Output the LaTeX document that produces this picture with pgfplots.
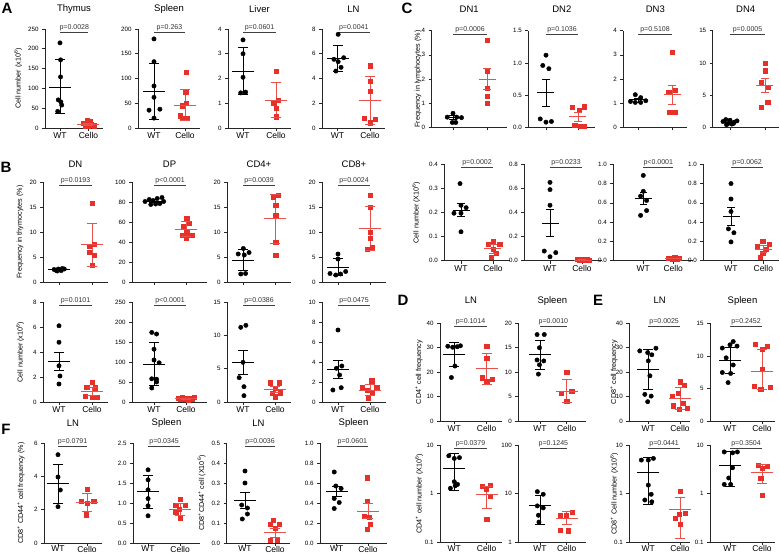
\documentclass[border=0pt]{standalone}
\usepackage{fontspec}
\setmainfont{Liberation Sans}
\usepackage{pgfplots}
\pgfplotsset{compat=1.18}
\definecolor{cred}{RGB}{232,48,42}
\colorlet{cbar}{cred!85}
\newcommand\tf{\fontsize{6.2}{6.5}\selectfont}
\newcommand\xf{\fontsize{8.5}{9}\selectfont}
\newcommand\ttf{\fontsize{9.5}{10}\selectfont}
\newcommand\pf{\fontsize{7}{7}\selectfont}
\newcommand\ylf{\fontsize{7.2}{8}\selectfont}
\newcommand\lf{\bfseries\fontsize{15}{15}\selectfont}
\def\capsz{5pt}
\def\meansz{11pt}
\newcommand\wt[1]{\addplot[only marks, mark=*, mark size=2.2pt, black] coordinates {#1};}
\newcommand\ce[1]{\addplot[only marks, mark=square*, mark size=2.1pt, cred] coordinates {#1};}
\newcommand\bars[5]{%
\addplot[#1, line width=0.6pt, mark=-, mark size=\capsz] coordinates {(#2,#4) (#2,#5)};
\addplot[#1, line width=0.6pt, only marks, mark=-, mark size=\meansz] coordinates {(#2,#3)};}
\newcommand\pval[1]{\path (axis cs:1,1) coordinate (pa) (axis cs:2,1) coordinate (pc) (rel axis cs:0,0.965) coordinate (pb);
\draw[line width=0.6pt, black!75] (pa|-pb) -- (pc|-pb) node[midway, above, inner sep=1pt, font=\pf, text=black!80] {#1};}
\pgfplotsset{
 pan/.style={scale only axis, axis lines=left, axis line style={-, line width=0.7pt, black!85}, clip=false,
  tick align=outside, major tick length=3pt, tick style={line width=0.7pt, black!85},
  xtick={1,2}, xticklabels={WT,Cello}, xticklabel style={font=\xf, yshift=2pt},
  yticklabel style={font=\tf}, scaled y ticks=false,
  /pgf/number format/assume math mode=true,
  title style={at={(0.5,1)}, anchor=center, font=\ttf}},
 dec1/.style={yticklabel style={/pgf/number format/.cd, fixed, fixed zerofill, precision=1}},
 nox/.style={xticklabels={}},
 bot/.style={xticklabel style={yshift=1.5pt}},
}
\begin{document}
\begin{tikzpicture}
\path[use as bounding box] (0,0) rectangle (780pt,-554pt);
% ---------------- Row A
\begin{axis}[pan, at={(45pt,-128pt)}, anchor=south west, width=58pt, height=99pt, xmin=0.474, xmax=2.509, ymin=0, ymax=250, ytick={0,50,...,250}, title={Thymus}, title style={yshift=14pt}]
\wt{(1,215)(1.02,172)(1.02,129)(0.94,71)(1.03,66)(1.06,58)(0.92,42)}
\ce{(1.82,12)(1.9,6)(1.95,20)(2.0,4)(2.05,16)(2.1,10)(2.15,8)(2.2,6)}
\bars{black}{1}{104}{37}{173}
\bars{cbar}{2}{10}{7}{13}
\pval{p=0.0028}
\end{axis}
\begin{axis}[pan, at={(138pt,-128pt)}, anchor=south west, width=62pt, height=99pt, xmin=0.484, xmax=2.484, ymin=0, ymax=200, ytick={0,50,...,200}, title={Spleen}, title style={yshift=14pt}]
\wt{(1,180)(1,134)(1,85)(1,62)(0.84,36)(1.19,38)(1,20)}
\ce{(2.05,112)(2.02,72)(1.92,45)(2.05,50)(1.84,25)(1.92,20)(2.08,20)}
\bars{black}{1}{75}{18}{131}
\bars{cbar}{2}{46}{16}{79}
\pval{p=0.263}
\end{axis}
\begin{axis}[pan, at={(228pt,-128pt)}, anchor=south west, width=63pt, height=99pt, xmin=0.545, xmax=2.455, ymin=0, ymax=4, ytick={0,1,...,4}, title={Liver}, title style={yshift=14pt}]
\wt{(1,3.56)(1,3.0)(1,2.05)(0.93,1.42)(1.08,1.45)}
\ce{(2,2.28)(2.07,1.13)(1.93,1.02)(2,0.8)(2,0.46)}
\bars{black}{1}{2.3}{1.35}{3.25}
\bars{cbar}{2}{1.13}{0.44}{1.85}
\pval{p=0.0601}
\end{axis}
\begin{axis}[pan, at={(322pt,-128pt)}, anchor=south west, width=63pt, height=99pt, xmin=0.523, xmax=2.462, ymin=0, ymax=8, ytick={0,2,...,8}, title={LN}, title style={yshift=14pt}]
\wt{(1.02,7.57)(0.89,5.55)(1.02,5.36)(1.19,5.68)(1.11,4.9)(0.95,4.6)}
\ce{(2,5.04)(2,3.8)(2,3.0)(1.82,0.78)(2.15,0.7)(2,0.43)}
\bars{black}{1}{5.63}{4.6}{6.65}
\bars{cbar}{2}{2.26}{0.32}{4.2}
\pval{p=0.0041}
\end{axis}
% ---------------- Row B top
\begin{axis}[pan, nox, at={(43pt,-282pt)}, anchor=south west, width=65pt, height=100pt, xmin=0.515, xmax=2.485, ymin=0, ymax=20, ytick={0,5,...,20}, title={DN}, title style={yshift=12pt}]
\wt{(0.85,2.5)(0.92,2.3)(0.98,2.6)(1.04,2.4)(1.1,2.7)(1.16,2.6)(0.95,2.2)(1.07,2.3)}
\ce{(2,15.7)(2.07,7.6)(1.92,7.1)(1.92,5.9)(2.07,5.4)(2,3.3)}
\bars{black}{1}{2.5}{2.3}{2.7}
\bars{cbar}{2}{7.5}{3.2}{11.7}
\pval{p=0.0193}
\end{axis}
\begin{axis}[pan, nox, at={(132pt,-282pt)}, anchor=south west, width=75pt, height=100pt, xmin=0.3125, xmax=2.656, ymin=0, ymax=100, ytick={0,20,...,100}, title={DP}, title style={yshift=12pt}]
\wt{(0.72,80.5)(0.85,82.5)(0.97,81.5)(1.1,83.5)(1.25,84.5)(1.3,80.5)(0.9,77.5)(1.05,78)(1.18,78.5)}
\ce{(2.02,63.7)(2.1,58.7)(1.92,56)(2.02,50.3)(1.87,47)(2.18,47)(2,44.3)}
\bars{black}{1}{81}{79.5}{82.5}
\bars{cbar}{2}{52.7}{45.7}{60.3}
\pval{p<0.0001}
\end{axis}
\begin{axis}[pan, nox, at={(227pt,-282pt)}, anchor=south west, width=64pt, height=100pt, xmin=0.5, xmax=2.5, ymin=0, ymax=20, ytick={0,5,...,20}, title={CD4+}, title style={yshift=12pt}]
\wt{(1.01,6.7)(0.85,5.6)(1.04,5.4)(1.19,5.9)(0.93,1.6)(1.08,1.7)}
\ce{(2.1,17.4)(1.95,16.9)(2.02,15.3)(2.02,13.3)(2.02,7.9)(2.02,5.4)}
\bars{black}{1}{4.4}{2.3}{6.6}
\bars{cbar}{2}{12.7}{7.7}{17.5}
\pval{p=0.0039}
\end{axis}
\begin{axis}[pan, nox, at={(322pt,-282pt)}, anchor=south west, width=64pt, height=100pt, xmin=0.5, xmax=2.5, ymin=0, ymax=20, ytick={0,5,...,20}, title={CD8+}, title style={yshift=12pt}]
\wt{(1,5.6)(1,4.6)(0.75,1.7)(0.93,1.4)(1.08,1.6)(1.24,2.1)}
\ce{(2,17.4)(2,14.9)(2,9.9)(2,8.7)(1.92,6.6)(2.08,6.9)}
\bars{black}{1}{2.9}{1.3}{4.7}
\bars{cbar}{2}{10.7}{6.4}{15.1}
\pval{p=0.0024}
\end{axis}
% ---------------- Row B bottom
\begin{axis}[pan, at={(43pt,-402pt)}, anchor=south west, width=65pt, height=100pt, xmin=0.515, xmax=2.485, ymin=0, ymax=8, ytick={0,2,...,8}]
\wt{(1,6.1)(1,4.78)(1,2.9)(1.03,2.08)(1,1.44)}
\ce{(2,1.6)(1.84,1.2)(2.09,1.15)(1.79,0.45)(2,0.4)(2.14,0.4)}
\bars{black}{1}{3.25}{2.5}{4.0}
\bars{cbar}{2}{0.82}{0.5}{1.15}
\pval{p=0.0101}
\end{axis}
\begin{axis}[pan, at={(132pt,-402pt)}, anchor=south west, width=75pt, height=100pt, xmin=0.3125, xmax=2.656, ymin=0, ymax=250, ytick={0,50,...,250}]
\wt{(0.93,174)(1.08,170)(1,132)(1,105)(1.16,98)(0.93,58)(1.08,57)(1.08,50)(0.93,35)}
\ce{(1.75,10)(1.82,8)(1.88,11)(1.94,7)(2.0,9)(2.06,6)(2.12,10)(2.18,8)(2.25,12)}
\bars{black}{1}{94}{43}{149}
\bars{cbar}{2}{9}{8}{10}
\pval{p<0.0001}
\end{axis}
\begin{axis}[pan, at={(227pt,-402pt)}, anchor=south west, width=64pt, height=100pt, xmin=0.5, xmax=2.5, ymin=0, ymax=15, ytick={0,5,...,15}]
\wt{(0.93,11.2)(1.09,11.5)(1,5.95)(0.88,3.65)(1.03,2.3)(1.03,0.95)}
\ce{(1.85,2.9)(2.13,2.9)(2.0,2.05)(1.9,1.3)(2.15,1.4)(2.0,0.8)}
\bars{black}{1}{5.95}{4.15}{7.7}
\bars{cbar}{2}{1.85}{1.4}{2.3}
\pval{p=0.0386}
\end{axis}
\begin{axis}[pan, at={(322pt,-402pt)}, anchor=south west, width=64pt, height=100pt, xmin=0.5, xmax=2.5, ymin=0, ymax=10, ytick={0,2,...,10}]
\wt{(1,7.2)(0.95,3.37)(1.12,3.6)(1.05,2.7)(0.84,1.2)(1.1,1.43)}
\ce{(2.05,2.13)(1.76,1.47)(2.21,1.47)(1.9,1.2)(2.07,0.97)(1.95,0.43)}
\bars{black}{1}{3.3}{2.37}{4.13}
\bars{cbar}{2}{1.2}{0.63}{1.77}
\pval{p=0.0475}
\end{axis}
% ---------------- Row F
\begin{axis}[pan, bot, at={(44pt,-543pt)}, anchor=south west, width=58pt, height=100pt, xmin=0.517, xmax=2.517, ymin=0, ymax=6, ytick={0,2,...,6}, title={LN}, title style={yshift=14pt}]
\wt{(1,5.3)(1,3.96)(1.08,3.18)(1,2.18)}
\ce{(2,3.24)(1.79,2.5)(2,2.4)(2.23,2.5)(1.98,1.7)}
\bars{black}{1}{3.6}{2.4}{4.74}
\bars{cbar}{2}{2.42}{1.9}{2.96}
\pval{p=0.0791}
\end{axis}
\begin{axis}[pan, bot, dec1, at={(133pt,-543pt)}, anchor=south west, width=67pt, height=100pt, xmin=0.53, xmax=2.62, ymin=0, ymax=2.5, ytick={0,0.5,1,1.5,2,2.5}, title={Spleen}, title style={yshift=14pt}]
\wt{(1,1.83)(1,1.58)(1,1.33)(1,1.11)(1,0.93)(1,0.68)}
\ce{(2,1.1)(1.86,0.95)(2.16,0.95)(1.97,0.85)(1.86,0.78)(2,0.63)}
\bars{black}{1}{1.3}{0.88}{1.69}
\bars{cbar}{2}{0.85}{0.7}{1.0}
\pval{p=0.0345}
\end{axis}
\begin{axis}[pan, bot, dec1, at={(226.7pt,-543pt)}, anchor=south west, width=63.3pt, height=100pt, xmin=0.39, xmax=2.5, ymin=0, ymax=0.5, ytick={0,0.1,0.2,0.3,0.4,0.5}, title={LN}, title style={yshift=14pt}]
\wt{(1,0.36)(1,0.30)(0.89,0.19)(1.08,0.175)(1.08,0.145)(0.91,0.12)}
\ce{(1.94,0.115)(1.83,0.093)(2.15,0.093)(2,0.073)(1.83,0.015)(2.08,0.015)}
\bars{black}{1}{0.215}{0.175}{0.253}
\bars{cbar}{2}{0.052}{0.03}{0.072}
\pval{p=0.0036}
\end{axis}
\begin{axis}[pan, bot, dec1, at={(320pt,-543pt)}, anchor=south west, width=67pt, height=100pt, xmin=0.466, xmax=2.606, ymin=0, ymax=1, ytick={0,0.2,0.4,0.6,0.8,1}, title={Spleen}, title style={yshift=14pt}]
\wt{(0.92,0.71)(0.97,0.57)(1.14,0.545)(0.92,0.445)(1.08,0.405)(0.92,0.345)}
\ce{(1.98,0.653)(1.98,0.42)(1.89,0.27)(2.05,0.26)(2.08,0.187)(1.97,0.137)}
\bars{black}{1}{0.52}{0.463}{0.563}
\bars{cbar}{2}{0.32}{0.247}{0.397}
\pval{p=0.0601}
\end{axis}
% ---------------- Row C top
\def\capsz{3.8pt}\def\meansz{8.5pt}
\begin{axis}[pan, nox, at={(431.7pt,-127.3pt)}, anchor=south west, width=75pt, height=96.6pt, xmin=0.3735, xmax=2.579, ymin=0, ymax=4, ytick={0,1,...,4}, title={DN1}, title style={yshift=15.7pt}]
\wt{(1,0.58)(0.83,0.42)(1.11,0.42)(1.25,0.4)(0.98,0.2)(1.08,0.2)}
\ce{(2,3.6)(2,2.32)(2,1.62)(2,1.3)(2,1.0)}
\bars{black}{1}{0.41}{0.33}{0.5}
\bars{cbar}{2}{2.0}{1.58}{2.45}
\pval{p=0.0006}
\end{axis}
\begin{axis}[pan, nox, dec1, at={(528.3pt,-127.3pt)}, anchor=south west, width=67pt, height=96.6pt, xmin=0.447, xmax=2.541, ymin=0, ymax=1.5, ytick={0,0.5,1,1.5}, title={DN2}, title style={yshift=15.7pt}]
\wt{(1,1.12)(0.9,0.96)(1.09,0.91)(0.82,0.13)(1,0.08)(1.17,0.09)}
\ce{(1.82,0.31)(2.03,0.27)(2.19,0.32)(1.9,0.03)(2.08,0.02)(2.2,0.02)}
\bars{black}{1}{0.55}{0.33}{0.74}
\bars{cbar}{2}{0.17}{0.10}{0.23}
\pval{p=0.1036}
\end{axis}
\begin{axis}[pan, nox, at={(623.3pt,-127.3pt)}, anchor=south west, width=64pt, height=96.6pt, xmin=0.568, xmax=2.45, ymin=0, ymax=4, ytick={0,1,...,4}, title={DN3}, title style={yshift=15.7pt}]
\wt{(0.92,1.35)(1.08,1.23)(0.78,1.07)(0.92,1.03)(1.08,1.03)(1.23,1.1)}
\ce{(2,3.1)(2.1,1.55)(1.9,1.44)(1.93,0.62)(2.1,0.62)}
\bars{black}{1}{1.14}{1.05}{1.22}
\bars{cbar}{2}{1.36}{0.97}{1.73}
\pval{p=0.5108}
\end{axis}
\begin{axis}[pan, nox, at={(712.7pt,-127.3pt)}, anchor=south west, width=66pt, height=96.6pt, xmin=0.506, xmax=2.392, ymin=0, ymax=15, ytick={0,5,...,15}, title={DN4}, title style={yshift=15.7pt}]
\wt{(0.8,0.9)(0.88,1.2)(0.95,0.6)(1.0,1.1)(1.05,0.5)(1.12,0.8)(1.2,1.0)(0.9,0.4)(1.1,0.6)}
\ce{(2,10.0)(2,8.8)(1.9,7.0)(2.1,6.25)(2.08,3.9)(1.9,3.06)}
\bars{black}{1}{0.72}{0.6}{0.85}
\bars{cbar}{2}{6.5}{5.47}{7.65}
\pval{p=0.0005}
\end{axis}
% ---------------- Row C bottom
\begin{axis}[pan, dec1, at={(444.3pt,-260.7pt)}, anchor=south west, width=66pt, height=96.4pt, xmin=0.478, xmax=2.541, ymin=0, ymax=0.4, ytick={0,0.1,0.2,0.3,0.4}]
\wt{(0.97,0.32)(1,0.23)(1.16,0.22)(0.78,0.197)(1,0.197)(1,0.12)}
\ce{(2,0.082)(1.84,0.068)(2.21,0.068)(2,0.048)(2.1,0.031)(1.95,0.014)}
\bars{black}{1}{0.21}{0.185}{0.237}
\bars{cbar}{2}{0.05}{0.031}{0.069}
\pval{p=0.0002}
\end{axis}
\begin{axis}[pan, dec1, at={(524.3pt,-260.7pt)}, anchor=south west, width=78pt, height=96.4pt, xmin=0.197, xmax=2.634, ymin=0, ymax=0.8, ytick={0,0.2,0.4,0.6,0.8}]
\wt{(1,0.65)(1,0.59)(1,0.46)(0.82,0.08)(1.18,0.067)(1,0.033)}
\ce{(1.85,0.01)(1.93,0.005)(2.0,0.01)(2.07,0.005)(2.15,0.01)(2.22,0.005)}
\bars{black}{1}{0.31}{0.2}{0.43}
\bars{cbar}{2}{0.007}{0.005}{0.009}
\pval{p=0.0233}
\end{axis}
\begin{axis}[pan, dec1, at={(613.3pt,-260.7pt)}, anchor=south west, width=80pt, height=96.4pt, xmin=0, xmax=2.667, ymin=0, ymax=1, ytick={0,0.2,0.4,0.6,0.8,1}]
\wt{(1,0.885)(1,0.72)(0.91,0.67)(1.11,0.625)(1.11,0.52)(0.91,0.47)}
\ce{(1.82,0.025)(1.9,0.03)(1.97,0.02)(2.05,0.035)(2.12,0.02)(2.2,0.025)}
\bars{black}{1}{0.65}{0.59}{0.71}
\bars{cbar}{2}{0.025}{0.02}{0.03}
\pval{p<0.0001}
\end{axis}
\begin{axis}[pan, dec1, at={(703.3pt,-260.7pt)}, anchor=south west, width=76pt, height=96.4pt, xmin=0.1424, xmax=2.495, ymin=0, ymax=1, ytick={0,0.2,0.4,0.6,0.8,1}]
\wt{(1,0.8)(1,0.64)(1,0.51)(0.92,0.33)(1.09,0.29)(1,0.195)}
\ce{(1.98,0.2)(2.19,0.175)(1.81,0.15)(2.08,0.12)(1.98,0.075)(1.9,0.04)}
\bars{black}{1}{0.465}{0.37}{0.555}
\bars{cbar}{2}{0.122}{0.087}{0.16}
\pval{p=0.0062}
\end{axis}
% ---------------- D / E top
\def\capsz{5pt}\def\meansz{11pt}
\begin{axis}[pan, at={(440pt,-421pt)}, anchor=south west, width=62pt, height=97.7pt, xmin=0.559, xmax=2.473, ymin=0, ymax=40, ytick={0,10,...,40}, title={LN}, title style={yshift=16.6pt}]
\wt{(0.8,30.6)(0.95,30.2)(1.09,30.4)(1.19,30.8)(1.02,22.5)(0.91,17.8)}
\ce{(2,30.6)(2,25.8)(1.86,17.7)(2.16,17.1)(2,16.2)}
\bars{black}{1}{27.2}{22.2}{32.2}
\bars{cbar}{2}{21.5}{15}{27.6}
\pval{p=0.1014}
\end{axis}
\begin{axis}[pan, at={(518.3pt,-421pt)}, anchor=south west, width=68pt, height=97.7pt, xmin=0.187, xmax=2.734, ymin=0, ymax=20, ytick={0,5,...,20}, title={Spleen}, title style={yshift=16.6pt}]
\wt{(0.89,17.7)(1.16,17.7)(0.98,15.0)(0.89,12.5)(1.14,12.3)(0.98,11.5)(0.94,9.6)}
\ce{(2,10.0)(1.79,5.7)(2.19,6.05)(2,4.0)}
\bars{black}{1}{13.6}{10.5}{16.5}
\bars{cbar}{2}{6.1}{3.8}{8.5}
\pval{p=0.0010}
\end{axis}
\begin{axis}[pan, at={(629.3pt,-421pt)}, anchor=south west, width=60.7pt, height=97.7pt, xmin=0.40, xmax=2.315, ymin=0, ymax=40, ytick={0,10,...,40}, title={LN}, title style={yshift=16.6pt}]
\wt{(0.73,28.7)(0.98,28.0)(1.24,29.8)(1.11,27.1)(1,24.6)(1.05,18.5)(0.89,10.9)(1.09,10.2)(0.98,7.9)}
\ce{(2,16.1)(2.14,14.8)(1.95,11.5)(1.76,10.1)(2.11,7.3)(1.78,6.3)(1.98,4.8)(2.22,5.2)}
\bars{black}{1}{21.1}{12.8}{29.4}
\bars{cbar}{2}{9.3}{4.8}{13.6}
\pval{p=0.0025}
\end{axis}
\begin{axis}[pan, at={(710pt,-421pt)}, anchor=south west, width=65pt, height=97.7pt, xmin=0.375, xmax=2.406, ymin=0, ymax=15, ytick={0,5,...,15}, title={Spleen}, title style={yshift=16.6pt}]
\wt{(1.1,12.2)(1,11.7)(1.22,11.5)(0.76,11.2)(0.88,9.7)(1.1,8.6)(0.76,7.45)(1.02,7.3)(0.94,5.9)}
\ce{(1.78,11.8)(2.17,11.5)(2,11.0)(2,8.0)(1.76,5.3)(1.96,4.9)(2.26,5.15)}
\bars{black}{1}{9.3}{7.3}{11.35}
\bars{cbar}{2}{7.7}{4.8}{11.0}
\pval{p=0.2452}
\end{axis}
% ---------------- D / E bottom (log)
\begin{axis}[pan, bot, ymode=log, log ticks with fixed point, yminorticks=false, at={(440pt,-542.3pt)}, anchor=south west, width=62pt, height=97.3pt, xmin=0.559, xmax=2.473, ymin=0.1, ymax=10, ytick={0.1,1,10}]
\wt{(0.83,6.0)(1,5.3)(1.16,5.5)(1,1.76)(1.1,1.55)(1.03,1.45)(0.88,1.29)}
\ce{(2.1,1.5)(1.86,1.45)(1.98,1.24)(2.1,0.87)(2,0.30)}
\bars{black}{1}{3.3}{1.18}{6.7}
\bars{cbar}{2}{0.97}{0.5}{1.39}
\pval{p=0.0379}
\end{axis}
\begin{axis}[pan, bot, ymode=log, log ticks with fixed point, yminorticks=false, at={(518.3pt,-542.3pt)}, anchor=south west, width=68pt, height=97.3pt, xmin=0.187, xmax=2.734, ymin=1, ymax=100, ytick={1,10,100}]
\wt{(0.9,11)(1.12,9.7)(0.9,5.6)(1.12,5.1)(0.94,3.6)(0.96,2.6)}
\ce{(2.22,4.2)(1.98,3.6)(1.76,3.6)(1.76,1.8)(2.06,1.74)}
\bars{black}{1}{5.9}{2.35}{9.4}
\bars{cbar}{2}{3.1}{2.35}{4.25}
\pval{p=0.1245}
\end{axis}
\begin{axis}[pan, bot, ymode=log, log ticks with fixed point, yminorticks=false, at={(629.3pt,-542.3pt)}, anchor=south west, width=60.7pt, height=97.3pt, xmin=0.40, xmax=2.315, ymin=0.1, ymax=10, ytick={0.1,1,10}]
\wt{(0.78,4.9)(1,4.9)(1.16,5.3)(1,1.5)(1.09,0.97)(0.89,0.74)(1.11,0.68)}
\ce{(2,1.13)(2.17,0.4)(1.98,0.375)(1.85,0.31)(2,0.235)}
\bars{black}{1}{2.7}{0.6}{5.7}
\bars{cbar}{2}{0.48}{0.12}{0.84}
\pval{p=0.0441}
\end{axis}
\begin{axis}[pan, bot, ymode=log, log ticks with fixed point, yminorticks=false, at={(710pt,-542.3pt)}, anchor=south west, width=65pt, height=97.3pt, xmin=0.375, xmax=2.406, ymin=0.1, ymax=10, ytick={0.1,1,10}]
\wt{(0.82,7.2)(1.08,6.9)(1.23,7.2)(1.08,3.4)(0.96,2.1)(0.82,1.55)(1.02,1.55)}
\ce{(1.88,3.9)(2.17,3.7)(2,3.3)(1.96,2.1)(2,0.94)}
\bars{black}{1}{3.9}{1.45}{7.6}
\bars{cbar}{2}{2.8}{1.63}{4.0}
\pval{p=0.3504}
\end{axis}
% ---------------- y labels
\node[rotate=90, font=\ylf] at (18pt,-78.5pt) {Cell number (x10\textsuperscript{6})};
\node[rotate=90, font=\ylf] at (20pt,-232pt) {Frequency in thymocytes (\%)};
\node[rotate=90, font=\ylf] at (20pt,-352pt) {Cell number (x10\textsuperscript{6})};
\node[rotate=90, font=\ylf] at (21pt,-493pt) {CD8\textsuperscript{+} CD44\textsuperscript{+} cell frequency (\%)};
\node[rotate=90, font=\ylf] at (201.7pt,-493pt) {CD8\textsuperscript{+}CD44\textsuperscript{+} cell (X10\textsuperscript{6})};
\node[rotate=90, font=\ylf] at (418pt,-79pt) {Frequency in lymphocytes (\%)};
\node[rotate=90, font=\ylf] at (416pt,-212.5pt) {Cell number (X10\textsuperscript{6})};
\node[rotate=90, font=\ylf] at (419pt,-372pt) {CD4\textsuperscript{+} cell frequency};
\node[rotate=90, font=\ylf] at (419pt,-493.7pt) {CD4\textsuperscript{+} cell number (X10\textsuperscript{6})};
\node[rotate=90, font=\ylf] at (614pt,-372pt) {CD8\textsuperscript{+} cell frequency};
\node[rotate=90, font=\ylf] at (614pt,-493.7pt) {CD8\textsuperscript{+} Cell number (X10\textsuperscript{6})};
% ---------------- panel letters
\node[font=\lf] at (7pt,-8pt) {A};
\node[font=\lf] at (6pt,-167pt) {B};
\node[font=\lf] at (6pt,-429pt) {F};
\node[font=\lf] at (407pt,-8pt) {C};
\node[font=\lf] at (403pt,-300pt) {D};
\node[font=\lf] at (598pt,-300pt) {E};
\end{tikzpicture}
\end{document}
